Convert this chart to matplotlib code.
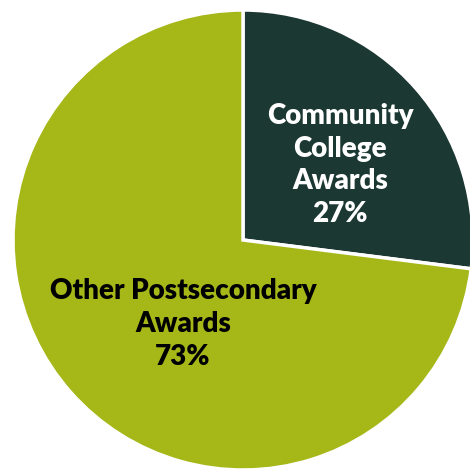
import numpy as np
import matplotlib.pyplot as plt

# 数据
labels = ['Community\nCollege\nAwards', 'Other Postsecondary\nAwards']
shares = [27, 73]
colors = ['#1b3833', '#a6b718']
text_colors = ['white', 'black']

plt.rcParams['font.family'] = ['Lato', 'DejaVu Sans']

fig = plt.figure(figsize=(4.70, 4.77), dpi=100)
ax = fig.add_axes([0, 0, 1, 1])

r_px = 230.0
cx, cy = 243.0, 241.0
wedges, _ = ax.pie(shares, colors=colors, startangle=90, counterclock=False,
                   radius=1.0, wedgeprops=dict(edgecolor='white', linewidth=2.5))

label_pos = [(340, 165), (183, 324)]
for lab, s, tc, (px, py) in zip(labels, shares, text_colors, label_pos):
    ax.text((px - cx) / r_px, (cy - py) / r_px, f'{lab}\n{s}%', ha='center', va='center',
            fontsize=20, fontweight='heavy', color=tc, linespacing=1.33)

ax.set_xlim(-cx / r_px, (470 - cx) / r_px)
ax.set_ylim(-(477 - cy) / r_px, cy / r_px)
ax.set_aspect('auto')
ax.axis('off')

fig.savefig('out.png', dpi=100)
